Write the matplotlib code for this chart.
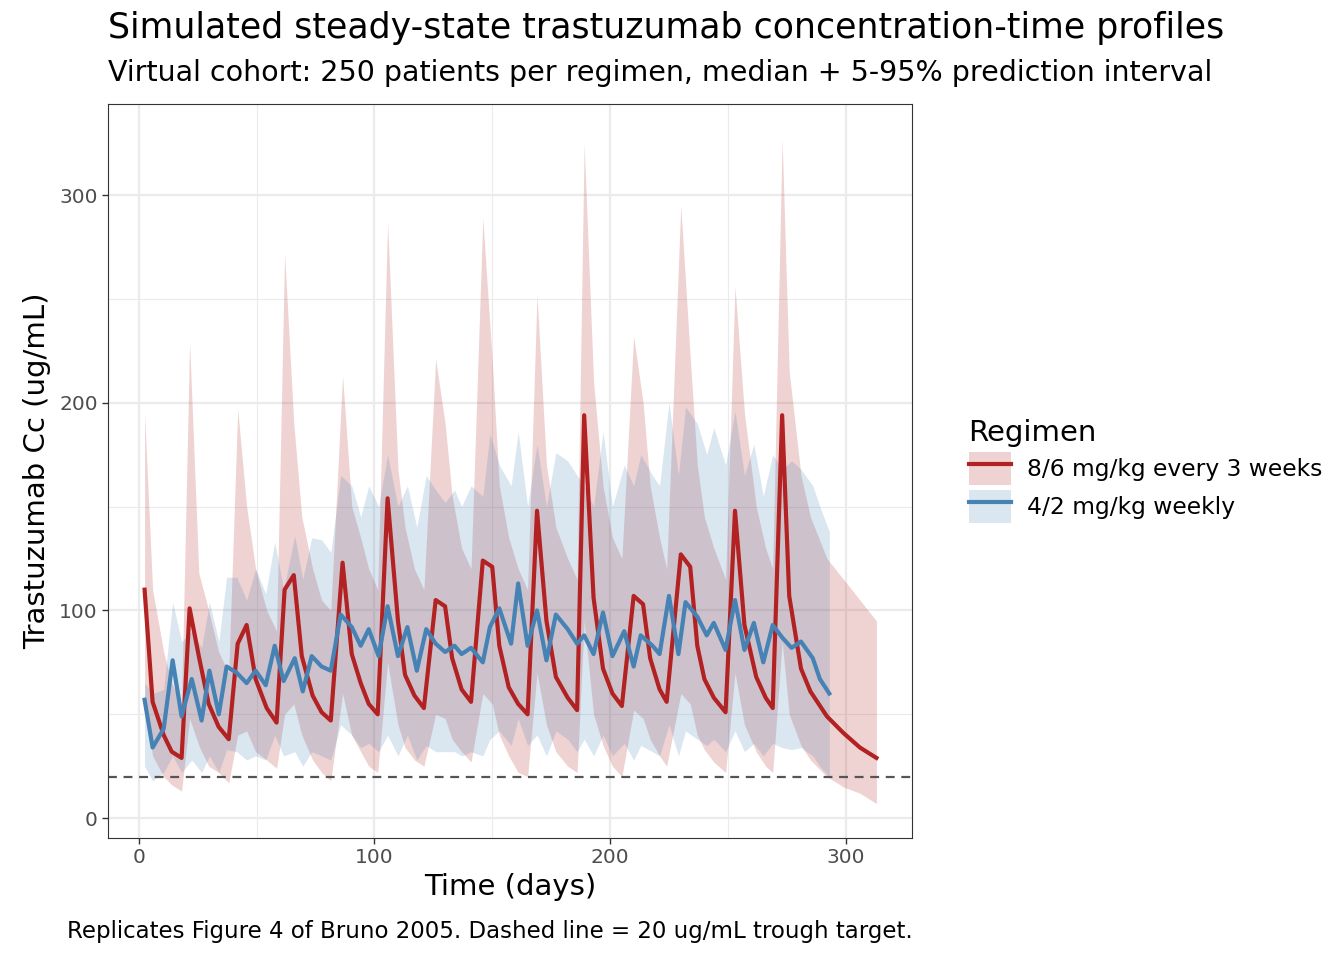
import matplotlib
matplotlib.use("Agg")
import matplotlib.pyplot as plt
import numpy as np

red_t = [2.5,5.9,10.6,14,18.2,21.6,25.5,29.7,33.9,38.2,42,45.8,49.6,54.3,58.5,61.9,65.8,69.2,73.8,77.6,81.5,86.5,90.4,94.2,97.6,101.4,105.6,110,113,117,121,126,130,133,137,141,146,150,153,157,161,165,169,173,177,182,186,189,193,197,201,205,210,214,217,221,224,230,234,237,240,244,249,253,257,262,266,269,273,276,281,285,292,299,306,313]
red_med = [110,56,40,32,29,101,78,55,44,38,84,93,67,53,46,110,117,78,59,51,47,123,79,65,55,50,154,95,69,59,53,105,102,77,62,56,124,121,83,63,55,50,148,95,68,58,52,194,106,72,60,54,107,103,77,62,56,127,121,83,67,58,51,148,93,68,58,53,194,107,72,61,49,41,34,29]
red_hi = [195,110,80,65,55,229,118,100,80,70,197,150,120,100,90,272,190,145,120,105,100,213,150,135,120,110,287,168,140,120,110,221,190,155,130,120,289,220,160,135,120,110,252,170,140,125,115,325,210,160,135,125,232,200,160,135,120,295,222,170,145,130,115,256,195,150,130,120,327,215,165,145,125,115,105,95]
red_lo = [55,30,20,16,13,48,35,25,22,17,40,42,32,28,24,50,55,40,28,22,18,60,40,32,25,22,75,45,34,28,25,50,48,38,32,27,60,55,40,30,22,20,70,45,32,25,22,95,50,35,25,20,52,48,38,30,25,60,55,40,33,27,22,70,45,32,25,22,85,50,35,28,20,15,12,7]

blue_t = [2.5,5.9,10.6,14.4,18.2,22.5,26.7,30,34,37.3,41.6,45.8,49.6,53.9,57.7,61.5,66.2,69.6,73.4,77.6,81.5,85.7,90.4,94.2,97.6,101.8,105.6,110,114,118,122,126,130,134,137,141,146,149,153,158,161,165,169,173,177,182,186,189,193,197,201,206,210,213,218,221,225,229,232,237,241,244,249,253,257,261,265,269,273,277,281,286,289,293]
blue_med = [57,34,43,76,49,67,47,71,50,73,70,65,71,64,83,66,77,61,78,73,71,98,92,83,91,78,102,78,92,71,91,84,80,83,79,82,75,92,101,84,113,83,100,76,98,91,84,88,79,99,78,90,73,88,83,79,107,79,104,97,88,94,81,105,81,94,75,93,87,82,85,77,67,60]
blue_hi = [65,60,62,104,85,90,82,104,85,116,116,105,120,108,133,110,136,115,135,134,128,165,160,145,160,150,175,150,160,140,165,158,152,158,150,160,155,185,170,160,186,150,180,150,176,172,165,160,150,186,150,170,160,175,165,160,200,165,198,190,175,188,170,196,165,180,155,175,168,172,168,160,150,138]
blue_lo = [25,18,22,30,22,28,22,30,22,33,32,28,30,28,40,30,32,25,32,30,28,45,40,34,36,32,40,30,40,28,35,32,32,32,30,32,30,38,42,35,48,35,40,30,42,38,32,38,30,40,30,36,28,35,32,30,45,30,42,38,35,38,32,42,32,36,30,36,34,33,34,30,25,20]

labels = ["8/6 mg/kg every 3 weeks", "4/2 mg/kg weekly"]
red = "#B22222"
blue = "#4682B4"

fig = plt.figure(figsize=(13.44, 9.6), dpi=100)
ax = fig.add_axes([0.0804, 0.127, 0.598, 0.765])

ax.fill_between(red_t, red_lo, red_hi, color=red, alpha=0.2, lw=0)
ax.fill_between(blue_t, blue_lo, blue_hi, color=blue, alpha=0.2, lw=0)
ax.axhline(20, color="#555555", ls=(0, (4, 3)), lw=1.6)
ax.plot(red_t, red_med, color=red, lw=3)
ax.plot(blue_t, blue_med, color=blue, lw=3)

ax.set_xlim(-13, 328)
ax.set_ylim(-9.6, 344)
ax.set_xticks([0, 100, 200, 300])
ax.set_yticks([0, 100, 200, 300])
ax.set_xticks([50, 150, 250], minor=True)
ax.set_yticks([50, 150, 250], minor=True)
ax.grid(which="major", color="#EBEBEB", lw=1.6)
ax.grid(which="minor", color="#EBEBEB", lw=0.8)
ax.set_axisbelow(True)
ax.tick_params(which="minor", length=0)
ax.tick_params(which="major", labelsize=14.5, colors="#4D4D4D", length=4, width=1, color="#333333")
for s in ax.spines.values():
    s.set_color("#333333")
ax.set_xlabel("Time (days)", fontsize=21, labelpad=4)
ax.set_ylabel("Trastuzumab Cc (ug/mL)", fontsize=21, labelpad=6)

fig.text(0.0804, 0.953, "Simulated steady-state trastuzumab concentration-time profiles", fontsize=25, va="bottom")
fig.text(0.0804, 0.909, "Virtual cohort: 250 patients per regimen, median + 5-95% prediction interval", fontsize=20.5, va="bottom")
fig.text(0.679, 0.018, "Replicates Figure 4 of Bruno 2005. Dashed line = 20 ug/mL trough target.", fontsize=16.5, ha="right", va="bottom")

from matplotlib.patches import Patch
from matplotlib.lines import Line2D
h = [(Patch(facecolor=red, alpha=0.2, lw=0), Line2D([], [], color=red, lw=3)),
     (Patch(facecolor=blue, alpha=0.2, lw=0), Line2D([], [], color=blue, lw=3))]
leg = fig.legend(h, labels, loc="upper left", bbox_to_anchor=(0.705, 0.585), frameon=False,
                 fontsize=16.8, title="Regimen", title_fontsize=21, handlelength=1.8, handleheight=1.8,
                 labelspacing=0.2, handletextpad=0.7)
leg._legend_box.align = "left"

fig.savefig("out.png", dpi=100)
